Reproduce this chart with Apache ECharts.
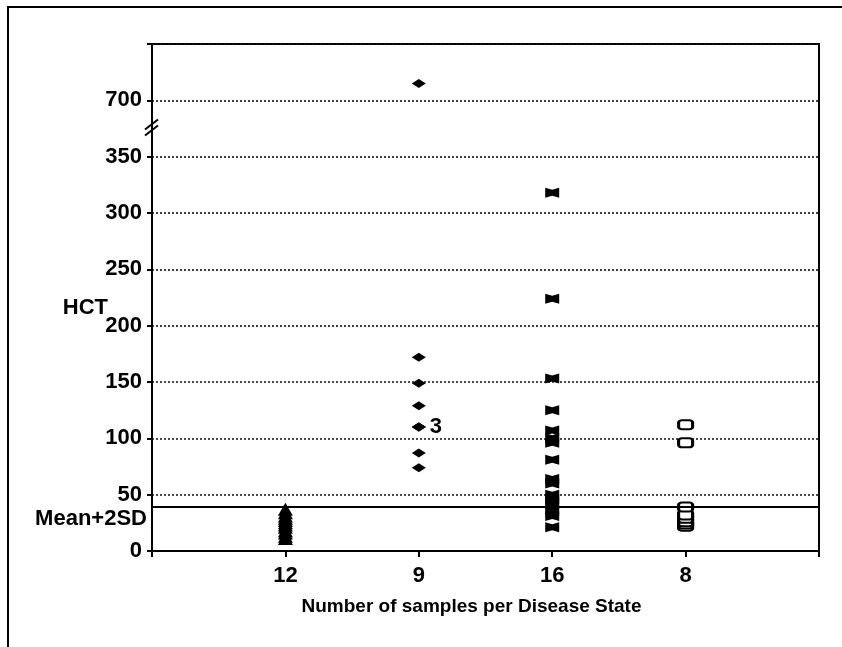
<!DOCTYPE html>
<html>
<head>
<meta charset="utf-8">
<style>
  html, body { margin: 0; padding: 0; background: #fff; }
</style>
</head>
<body>
<div id="hct-chart" style="width: 842px;height: 647px;"></div>

<script src="https://cdn.jsdelivr.net/npm/echarts@6/dist/echarts.min.js"></script>
<script type="text/javascript">
  // 样本数（x轴分组）
  var groups = ['12', '9', '16', '8'];
  // 各组 HCT 值
  var hct12 = [37, 34, 31, 29, 27, 25, 23, 21, 18, 16, 13, 11];
  var hct9 = [715, 172, 149, 129, 110, 110, 110, 87, 74];
  var hct16 = [318, 224, 153, 125, 107, 100, 96, 81, 64, 60, 50, 46, 42, 36, 31, 21];
  var hct8 = [112, 96, 22, 24, 26, 29, 32, 39];
  var meanPlus2SD = 39;
  // y轴断裂：350 以上的值整体下移
  var breakFrom = 350, breakShift = 300;
  var yTicks = [0, 50, 100, 150, 200, 250, 300, 350, 700];

  var font = "'Liberation Sans', Arial, sans-serif";

  function toAxis(v) { return v > breakFrom ? v - breakShift : v; }
  function toLabel(v) { return v > breakFrom ? v + breakShift : v; }

  function points(idx, arr) {
    return arr.map(function (v) { return [idx + 1, toAxis(v)]; });
  }

  var chart = echarts.init(document.getElementById('hct-chart'));

  var data9 = points(1, hct9);
  // 重叠的三个点标注 "3"
  data9[4] = {
    value: data9[4],
    label: { show: true, formatter: '3', position: 'right', distance: 4,
      color: '#000', fontSize: 22, fontFamily: font, fontWeight: 'bold' }
  };

  var option = {
    backgroundColor: '#fff',
    animation: false,
    grid: { left: 152, right: 23, top: 44, bottom: 96, show: true,
      borderColor: '#000', borderWidth: 2 },
    xAxis: {
      type: 'value', min: 0, max: groups.length + 1, interval: 1,
      name: 'Number of samples per Disease State',
      nameLocation: 'middle', nameGap: 46,
      nameTextStyle: { color: '#000', fontSize: 19, fontFamily: font, fontWeight: 'bold', padding: [0, 28, 0, 0] },
      axisLine: { lineStyle: { color: '#000', width: 2 } },
      axisTick: { show: true, length: 6, lineStyle: { color: '#000', width: 2 } },
      axisLabel: { color: '#000', fontSize: 22, fontFamily: font, fontWeight: 'bold', margin: 14,
        formatter: function (v) { return groups[v - 1] || ''; } },
      splitLine: { show: false }
    },
    yAxis: {
      type: 'value', min: 0, max: 450, interval: 50,
      axisLine: { show: true, lineStyle: { color: '#000', width: 2 } },
      axisTick: { show: true, length: 5, lineStyle: { color: '#000', width: 2 } },
      axisLabel: { color: '#000', fontSize: 22, fontFamily: font, fontWeight: 'bold', margin: 10,
        formatter: function (v) {
          var real = toLabel(v);
          return yTicks.indexOf(real) >= 0 ? String(real) : '';
        } },
      splitLine: { show: true, lineStyle: { color: '#111', width: 1.6, type: [2, 2] } }
    },
    series: [
      { type: 'scatter', data: points(0, hct12), symbol: 'triangle', symbolSize: [15, 13],
        itemStyle: { color: '#000', opacity: 1 },
        markLine: { silent: true, symbol: 'none', label: { show: false },
          lineStyle: { color: '#000', width: 2, type: 'solid' },
          data: [{ yAxis: meanPlus2SD }] } },
      { type: 'scatter', data: data9, symbol: 'diamond', symbolSize: [14, 9],
        itemStyle: { color: '#000', opacity: 1 } },
      { type: 'scatter', data: points(2, hct16),
        symbol: 'path://M0,0 L5,1.6 L10,0 L10,8 L5,6.4 L0,8 Z', symbolSize: [14, 10],
        itemStyle: { color: '#000', opacity: 1 } },
      { type: 'scatter', data: points(3, hct8), symbol: 'roundRect', symbolSize: [14, 9],
        itemStyle: { color: '#fff', borderColor: '#000', borderWidth: 2.5, opacity: 1 } }
    ]
  };
  chart.setOption(option);

  // 断轴符号、HCT / Mean+2SD 文字及外框
  var brk = chart.convertToPixel({ gridIndex: 0 }, [0, 375]);
  var mean = chart.convertToPixel({ gridIndex: 0 }, [0, meanPlus2SD]);
  var title = chart.convertToPixel({ gridIndex: 0 }, [0, 216]);
  chart.setOption({
    graphic: [
      { type: 'rect', shape: { x: 8, y: 7, width: 900, height: 700 },
        style: { fill: 'none', stroke: '#000', lineWidth: 2 }, silent: true },
      { type: 'line', shape: { x1: brk[0] - 7, y1: brk[1] + 1, x2: brk[0] + 6, y2: brk[1] - 9 },
        style: { stroke: '#000', lineWidth: 2 } },
      { type: 'line', shape: { x1: brk[0] - 7, y1: brk[1] + 7, x2: brk[0] + 6, y2: brk[1] - 3 },
        style: { stroke: '#000', lineWidth: 2 } },
      { type: 'text', x: title[0] - 44, y: title[1],
        style: { text: 'HCT', fill: '#000', fontSize: 22, fontFamily: font, fontWeight: 'bold',
          align: 'right', verticalAlign: 'middle' } },
      { type: 'text', x: mean[0] - 5, y: mean[1] + 12,
        style: { text: 'Mean+2SD', fill: '#000', fontSize: 22, fontFamily: font, fontWeight: 'bold',
          align: 'right', verticalAlign: 'middle' } }
    ]
  });
</script>
</body>
</html>
